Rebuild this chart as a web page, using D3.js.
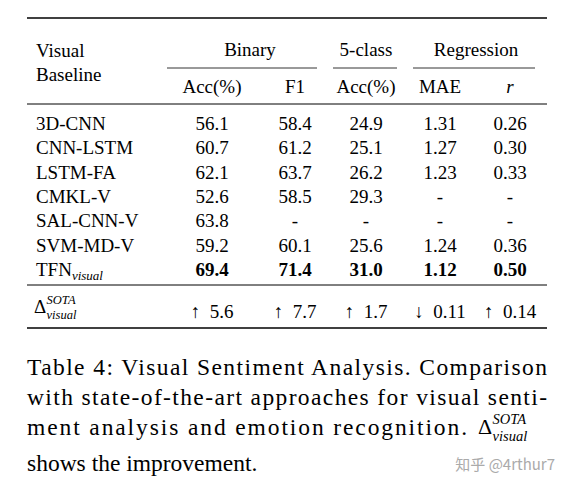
<!DOCTYPE html>
<html><head><meta charset="utf-8">
<script src="https://cdn.jsdelivr.net/npm/d3@7"></script>
<style>body{margin:0;background:#fff}svg{font-family:"Liberation Serif","Times New Roman",serif}</style>
</head><body><div id="chart"></div>
<script>
// table data
const models = ["3D-CNN","CNN-LSTM","LSTM-FA","CMKL-V","SAL-CNN-V","SVM-MD-V","TFN"];
const binaryAcc = ["56.1","60.7","62.1","52.6","63.8","59.2","69.4"];
const binaryF1 = ["58.4","61.2","63.7","58.5","-","60.1","71.4"];
const fiveAcc = ["24.9","25.1","26.2","29.3","-","25.6","31.0"];
const mae = ["1.31","1.27","1.23","-","-","1.24","1.12"];
const corr = ["0.26","0.30","0.33","-","-","0.36","0.50"];
const deltas = ["↑  5.6","↑  7.7","↑  1.7","↓  0.11","↑  0.14"];
const colKeys = ["acc2","f1","acc5","mae","r"];
const colX = [212,295,366,440,510];

const svg = d3.select("#chart").append("svg").attr("width",569).attr("height",490);

const x = d3.scaleOrdinal().domain(colKeys).range(colX);
const y = d3.scaleBand().domain(d3.range(models.length)).range([112,282]);

function rule(y0, w){
  svg.append("line").attr("x1",27).attr("x2",547).attr("y1",y0).attr("y2",y0)
    .attr("stroke","#000").attr("stroke-width",w);
}
rule(18,1.6); rule(104,1); rule(285,1); rule(328,1.6);

const fs = 19;
// header
svg.append("text").attr("x",36).attr("y",57).attr("font-size",fs).text("Visual");
svg.append("text").attr("x",36).attr("y",81).attr("font-size",fs).text("Baseline");
const groups = [["Binary",250,167,317],["5-class",366,333,397],["Regression",476,413,535]];
groups.forEach(g=>{
  svg.append("text").attr("x",g[1]).attr("y",56).attr("text-anchor","middle").attr("font-size",fs).text(g[0]);
  svg.append("line").attr("x1",g[2]).attr("x2",g[3]).attr("y1",68).attr("y2",68).attr("stroke","#000").attr("stroke-width",0.8);
});
const subs = ["Acc(%)","F1","Acc(%)","MAE","r"];
subs.forEach((s,i)=>{
  svg.append("text").attr("x",x(colKeys[i])).attr("y",93).attr("text-anchor","middle")
    .attr("font-size",fs).attr("font-style",s==="r"?"italic":null).text(s);
});

// rows
const cols = [binaryAcc,binaryF1,fiveAcc,mae,corr];
models.forEach((m,i)=>{
  const yy = y(i)+y.bandwidth()/2+6;
  const t = svg.append("text").attr("x",36).attr("y",yy).attr("font-size",fs).text(m);
  if(m==="TFN") t.append("tspan").attr("font-size",13).attr("font-style","italic").attr("dy",4).text("visual");
  cols.forEach((c,j)=>{
    svg.append("text").attr("x",x(colKeys[j])).attr("y",yy).attr("text-anchor","middle")
      .attr("font-size",fs).attr("font-weight",i===models.length-1?"bold":null).text(c[i]);
  });
});

// delta row
function delta(x0,y0,s){
  svg.append("text").attr("x",x0).attr("y",y0).attr("font-size",s).text("Δ");
  svg.append("text").attr("x",x0+s*0.66).attr("y",y0-s*0.45).attr("font-size",s*0.66).attr("font-style","italic").text("SOTA");
  svg.append("text").attr("x",x0+s*0.66).attr("y",y0+s*0.3).attr("font-size",s*0.66).attr("font-style","italic").text("visual");
}
delta(34,313,fs);
deltas.forEach((d,j)=>{
  svg.append("text").attr("x",x(colKeys[j])).attr("y",318).attr("text-anchor","middle")
    .attr("font-size",fs).attr("xml:space","preserve").style("white-space","pre").text(d);
});

// caption
const cap = [
  ["Table 4: Visual Sentiment Analysis. Comparison",375,520],
  ["with state-of-the-art approaches for visual senti-",405,520],
  ["ment analysis and emotion recognition.",435,440],
  ["shows the improvement.",471,null]
];
cap.forEach(c=>{
  const t = svg.append("text").attr("x",27).attr("y",c[1]).attr("font-size",23.5).text(c[0]);
  if(c[2]) t.attr("textLength",c[2]).attr("lengthAdjust","spacing");
});
delta(478,434,22);

svg.append("text").attr("x",555).attr("y",470).attr("text-anchor","end").attr("font-size",15)
  .attr("fill","#aaa").attr("font-family","Noto Sans CJK SC").text("知乎 @4rthur7");
</script></body></html>
